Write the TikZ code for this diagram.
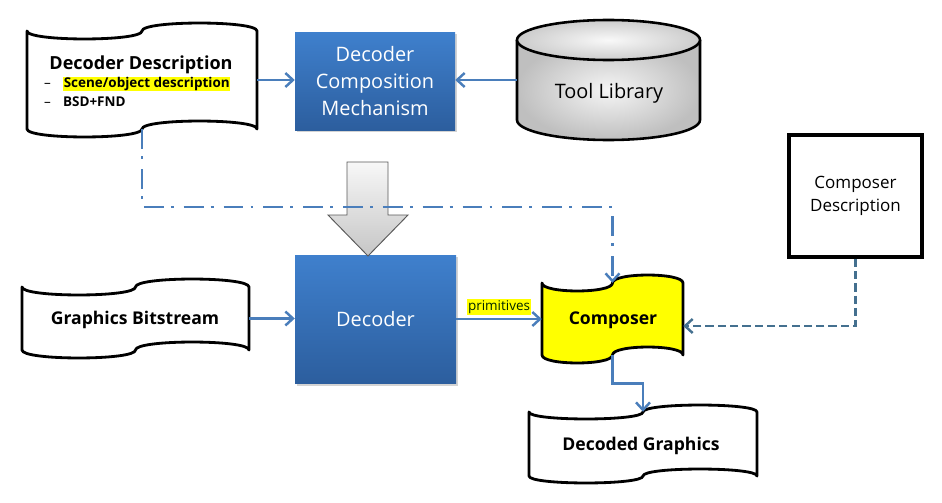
\documentclass[tikz,border=0pt]{standalone}
\usepackage{fontspec}
\setmainfont{Open Sans}
\usetikzlibrary{arrows.meta,calc,fit}
\definecolor{conn}{HTML}{4A7EBB}
\definecolor{dconn}{HTML}{44708F}
\definecolor{boxtop}{HTML}{3F80CD}
\definecolor{boxbot}{HTML}{2C5E9E}
\definecolor{hly}{HTML}{FFFF00}
\newcommand\tape[6]{% x0, yt, x1, yb, amp, style
  \draw[#6] (#1,#2) .. controls (#1,#2+1.33*#5) and ({(#1+#3)/2},#2+1.33*#5) .. ({(#1+#3)/2},#2)
  .. controls ({(#1+#3)/2},#2-1.33*#5) and (#3,#2-1.33*#5) .. (#3,#2)
  -- (#3,#4) .. controls (#3,#4-1.33*#5) and ({(#1+#3)/2},#4-1.33*#5) .. ({(#1+#3)/2},#4)
  .. controls ({(#1+#3)/2},#4+1.33*#5) and (#1,#4+1.33*#5) .. (#1,#4) -- cycle;}
\begin{document}
\begin{tikzpicture}[x=0.03cm,y=-0.03cm,
  outl/.style={draw=black, line width=2.4pt, line join=round},
  conn/.style={draw=conn, line width=2.3pt, -{Straight Barb[length=6.5pt,width=12pt,line width=2.1pt]}},
  bluebox/.style={top color=boxtop, bottom color=boxbot, draw=none, inner sep=0pt,
    text=white, font=\fontsize{17}{23}\selectfont, align=center},
  tapetxt/.style={font=\fontsize{15}{18}\selectfont\bfseries, inner sep=0pt},
  holder/.style={inner sep=0pt, draw=none}]
\useasboundingbox (0,0) rectangle (942,503);

% ---------- Decoder Description (tape)
\tape{27}{31}{257}{129}{8}{outl, fill=white}
\node[holder, fit={(27,31) (257,129)}] (dd) {};
\node[tapetxt, font=\fontsize{15.4}{17}\selectfont\bfseries] (ddt) at (141,65) {Decoder Description};
\node[anchor=west, inner sep=0pt, font=\fontsize{11.5}{14}\selectfont\bfseries] (ddi1) at (44,84)
  {{\mdseries --}\hspace{0.9em}{\setlength{\fboxsep}{0.6pt}\colorbox{hly}{Scene/object description}}};
\node[anchor=west, inner sep=0pt, font=\fontsize{11.5}{14}\selectfont\bfseries] (ddi2) at (44,102)
  {{\mdseries --}\hspace{0.9em}BSD+FND};

% ---------- Decoder Composition Mechanism
\fill[gray, opacity=0.35] (297,34) rectangle (457,132);
\node[bluebox, minimum width=160*0.03cm, minimum height=98*0.03cm] (mech) at (375,81)
  {Decoder\\Composition\\Mechanism};

% ---------- Tool Library cylinder
\shade[inner color=gray!8, outer color=gray!50, shading=radial]
  (517,40) -- (517,120) arc[start angle=180,end angle=360,x radius=2.745cm,y radius=0.6cm] -- (700,40) -- cycle;
\draw[line width=2.2pt] (517,40) -- (517,120) arc[start angle=180,end angle=360,x radius=2.745cm,y radius=0.6cm] -- (700,40);
\shade[inner color=gray!5, outer color=gray!40, shading=radial] (608.5,40) ellipse[x radius=2.745cm,y radius=0.6cm];
\draw[line width=2.2pt] (608.5,40) ellipse[x radius=2.745cm,y radius=0.6cm];
\node[holder, fit={(517,20) (700,140)}] (tool) {};
\node[font=\fontsize{17}{20}\selectfont, inner sep=0pt] (toolt) at (609,93) {Tool Library};

% ---------- Decoder
\fill[gray, opacity=0.35] (297,257) rectangle (458,386);
\node[bluebox, minimum width=161*0.03cm, minimum height=128*0.03cm] (dec) at (375.5,319) {Decoder};

% ---------- Big arrow
\shadedraw[top color=gray!6, bottom color=gray!45, draw=black!65, line width=0.8pt, line join=miter]
  (347,162) -- (388,162) -- (388,215) -- (408,215) -- (368,256) -- (328,215) -- (347,215) -- cycle;

% ---------- Graphics Bitstream
\tape{22}{287}{249}{350}{8}{outl, fill=white}
\node[holder, fit={(22,287) (249,350)}] (gb) {};
\node[tapetxt] (gbt) at (135,320) {Graphics Bitstream};

% ---------- Composer
\tape{542}{283}{683}{355}{8}{outl, fill=hly}
\node[holder, fit={(542,283) (683,355)}] (comp) {};
\node[tapetxt] (compt) at (613,320) {Composer};

% ---------- Decoded Graphics
\tape{529}{412}{757}{476}{7}{outl, fill=white}
\node[holder, fit={(529,412) (757,476)}] (dg) {};
\node[tapetxt] (dgt) at (641,446) {Decoded Graphics};

% ---------- Composer Description
\node[draw=black, line width=3pt, minimum width=133*0.03cm, minimum height=122*0.03cm,
  align=center, font=\fontsize{14.5}{19}\selectfont, inner sep=0pt] (cd) at (855.5,196)
  {Composer\\Description};

% ---------- connectors
\draw[conn] (dd.east) -- (dd.east -| mech.west);
\draw[conn] (tool.west) -- (tool.west -| mech.east);
\draw[conn] (gb.east) -- (gb.east -| dec.west);
\draw[conn] (dec.east) -- node[above=2pt, fill=hly, inner sep=1.2pt, text=black!85!green,
  font=\fontsize{11.5}{13}\selectfont] (prim) {primitives} (dec.east -| comp.west);
\coordinate (ddc) at (dd.south |- 0,207);
\draw[conn, dash pattern=on 17pt off 6pt on 2.5pt off 8.5pt] (dd.south) -- (ddc) -| (comp.north);
\coordinate (cin) at ($(comp.east)+(0,7)$);
\draw[draw=dconn, line width=2.5pt, dash pattern=on 7pt off 3.5pt,
  -{Straight Barb[length=6.5pt,width=12pt,line width=2.1pt]}] (cd.south) |- (cin);
\coordinate (bend) at ($(comp.south)!0.5!(dg.north)$);
\draw[conn] (comp.south) |- (bend) -| (dg.north);
\end{tikzpicture}
\end{document}
